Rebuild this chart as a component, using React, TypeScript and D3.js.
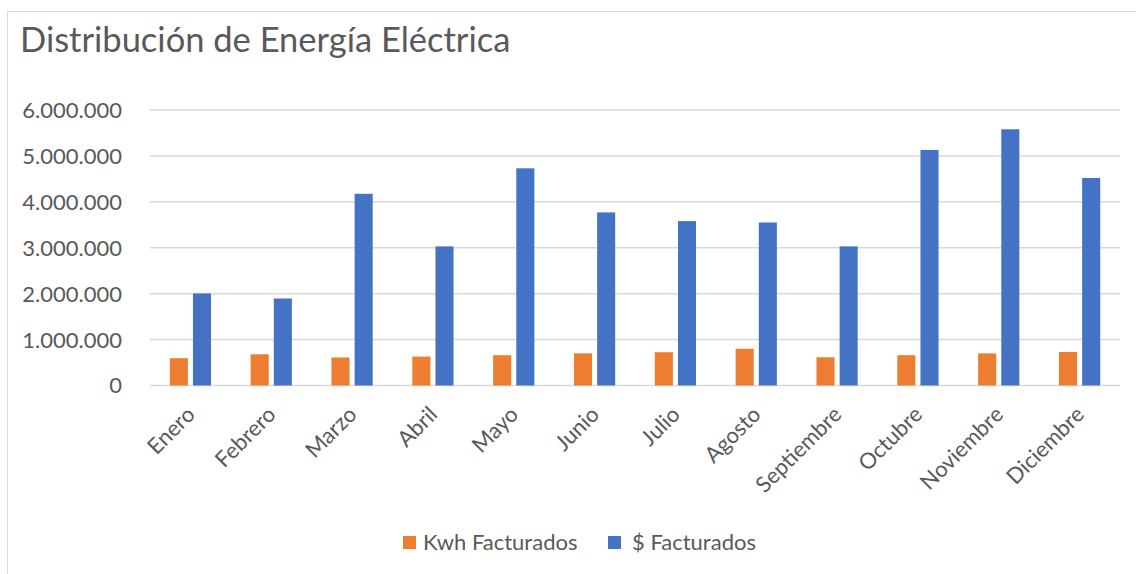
import React from "react";
import * as d3 from "d3";

const categories = ["Enero", "Febrero", "Marzo", "Abril", "Mayo", "Junio", "Julio", "Agosto", "Septiembre", "Octubre", "Noviembre", "Diciembre"];
const seriesNames = ["Kwh Facturados", "$ Facturados"];
const kwhValues = [595000, 680000, 610000, 630000, 660000, 700000, 725000, 800000, 615000, 660000, 700000, 730000];
const pesosValues = [2005000, 1895000, 4175000, 3030000, 4730000, 3770000, 3580000, 3550000, 3030000, 5130000, 5580000, 4520000];
const yTicks = [0, 1000000, 2000000, 3000000, 4000000, 5000000, 6000000];
const colors = ["#ED7D31", "#4472C4"];

const W = 1136, H = 574;
const FONT = "Lato, 'Open Sans', sans-serif";
const TXT = "#595959";

const fmt = (v: number) => v === 0 ? "0" : d3.format(",")(v).replace(/,/g, ".");

export default function App() {
  const x = d3.scaleBand<string>().domain(categories).range([150, 1120]).paddingInner(0).paddingOuter(0);
  const bw = x.bandwidth();
  const x1 = d3.scaleBand<string>().domain(seriesNames).range([bw * 0.245, bw * 0.755]).paddingInner(0.22);
  const y = d3.scaleLinear().domain([0, 6000000]).range([385.5, 110]);
  const values = [kwhValues, pesosValues];

  return (
    <svg width={W} height={H} style={{ position: "absolute", left: 0, top: 0, background: "#fff" }} fontFamily={FONT}>
      <rect x={0} y={0} width={W} height={H} fill="#fff" />
      <rect x={7.5} y={11.5} width={1140} height={600} fill="none" stroke="#d9d9d9" strokeWidth={1} />
      <text x={20} y={52} fontSize={34.5} fill={TXT}>Distribución de Energía Eléctrica</text>
      {yTicks.map((t) => (
        <g key={t}>
          <line x1={150} x2={1120} y1={y(t)} y2={y(t)} stroke="#d9d9d9" strokeWidth={1.5} />
          <text x={122} y={y(t)} dy="0.36em" textAnchor="end" fontSize={22} fill={TXT}>{fmt(t)}</text>
        </g>
      ))}
      {categories.map((c, i) => (
        <g key={c} transform={`translate(${x(c)},0)`}>
          {seriesNames.map((s, k) => (
            <rect key={s} x={x1(s)} y={y(values[k][i])} width={x1.bandwidth()} height={y(0) - y(values[k][i])} fill={colors[k]} />
          ))}
        </g>
      ))}
      {categories.map((c) => {
        const cx = (x(c) as number) + bw / 2 - 5;
        const cy = 405;
        return (
          <text key={c} x={cx} y={cy} textAnchor="end" fontSize={22} fill={TXT} dy="0.7em" transform={`rotate(-45 ${cx} ${cy})`}>{c}</text>
        );
      })}
      {seriesNames.map((s, k) => {
        const lx = k === 0 ? 403 : 608;
        return (
          <g key={s}>
            <rect x={lx} y={536} width={13} height={13} fill={colors[k]} />
            <text x={lx + 20 + (k === 1 ? 4 : 0)} y={542.5} dy="0.36em" fontSize={22} fill={TXT}>{s}</text>
          </g>
        );
      })}
    </svg>
  );
}
